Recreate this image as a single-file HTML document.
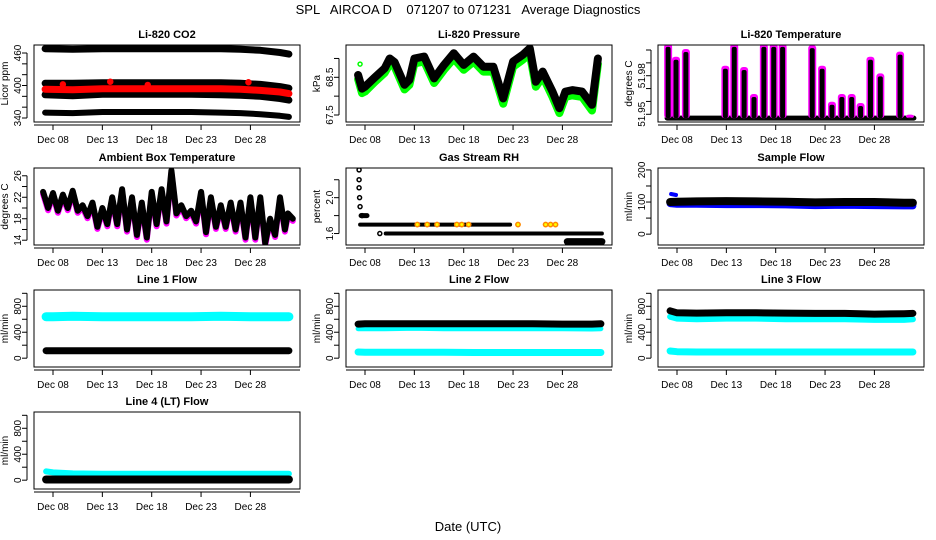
<!DOCTYPE html>
<html><head><meta charset="utf-8"><style>
html,body{margin:0;padding:0;background:#fff;}
svg{display:block;font-family:"Liberation Sans",sans-serif;}
</style></head><body>
<svg id="c" width="936" height="540" viewBox="0 0 936 540">
<text x="468" y="14" text-anchor="middle" font-size="13" style="white-space:pre" xml:space="preserve">SPL   AIRCOA D    071207 to 071231   Average Diagnostics</text>
<text x="468" y="531" text-anchor="middle" font-size="13">Date (UTC)</text>
</svg>
<script>
// ---- shared x-axis data ----
const xTickDays = [8, 13, 18, 23, 28];
const xTickLabels = ["Dec 08", "Dec 13", "Dec 18", "Dec 23", "Dec 28"];

// ---- CO2 ----
const co2Days = [7.2, 10, 13, 16, 19, 22, 25, 27, 29, 31, 31.9];
const co2High = [468, 467, 468, 468, 468, 468, 468, 467, 465, 461, 458];
const co2Upper = [404, 404, 405, 405, 405, 405, 405, 404, 402, 398, 395];
const co2Red = [393, 392, 394, 394, 394, 394, 394, 393, 391, 388, 385];
const co2Lower = [383, 381, 384, 384, 384, 384, 383, 382, 380, 376, 373];
const co2Low = [350, 349, 351, 351, 351, 351, 350, 349, 347, 344, 342];
const co2Spikes = [[13.8, 407], [27.8, 406], [9.0, 402], [17.6, 401]];

// ---- Pressure ----
const presDays = [7.3, 7.7, 8, 9, 10, 10.5, 11, 12, 12.5, 13, 14, 15, 16, 17, 18, 19, 20, 21, 22, 23, 24, 24.7, 25.3, 26, 27, 27.7, 28.3, 29, 30, 31, 31.6];
const presBlack = [68.56, 68.2, 68.25, 68.5, 68.74, 69.0, 68.9, 68.3, 68.43, 69.0, 69.05, 68.47, 68.83, 69.14, 68.83, 69.05, 68.78, 68.78, 67.94, 68.92, 69.1, 69.27, 68.38, 68.65, 68.12, 67.68, 68.12, 68.16, 68.12, 67.77, 69.0];
const presGreen = [68.45, 68.08, 68.12, 68.38, 68.62, 68.85, 68.78, 68.18, 68.3, 68.87, 68.92, 68.35, 68.7, 69.0, 68.7, 68.92, 68.65, 68.65, 67.8, 68.78, 68.97, 69.12, 68.25, 68.52, 67.98, 67.55, 67.98, 68.02, 67.98, 67.62, 68.85];

// ---- Li-820 temperature ----
const tempSpikeDays = [7.1, 7.9, 8.9, 12.9, 13.8, 14.8, 15.8, 16.8, 17.8, 18.7, 21.7, 22.7, 23.7, 24.7, 25.7, 26.6, 27.6, 28.6, 30.6, 31.6];
const tempSpikeTops = [52.004, 51.994, 52.0, 51.987, 52.004, 51.986, 51.965, 52.004, 52.004, 52.004, 52.003, 51.987, 51.959, 51.965, 51.965, 51.958, 51.994, 51.981, 51.998, 51.949];
const tempBase = 51.947;

// ---- Ambient box temperature ----
const ambDays = [7, 8, 9, 10, 11, 12, 13, 14, 15, 16, 17, 18, 19, 20, 21, 22, 23, 24, 25, 26, 27, 28, 29, 30, 31, 31.8];
const ambLow = [20, 19.5, 20, 19.5, 18.5, 16.5, 17, 17, 16, 15, 14.5, 17, 17.5, 19, 18.5, 17.5, 15.5, 16.5, 16.5, 16, 14.5, 14.5, 13.5, 15, 16, 18];
const ambHigh = [23, 22.8, 22.5, 23.2, 20.5, 21, 20, 22, 23.5, 22, 21, 23, 23.5, 27, 20.5, 19.5, 23, 22, 20.5, 21, 21, 22, 22, 18, 22, 19];

// ---- Gas stream RH ----
const rhEarlyDays = [7.4, 7.4, 7.4, 7.45, 7.5, 7.7];
const rhEarlyVals = [2.31, 2.2, 2.11, 2.0, 1.9, 1.8];
const rhSegStart = [7.5, 10.1, 28.5];
const rhSegEnd = [22.7, 32.0, 32.0];
const rhSegVal = [1.70, 1.60, 1.51];
const rhMarkDays = [13.3, 14.3, 15.3, 17.3, 17.8, 18.5, 23.5, 26.3, 26.8, 27.3];

// ---- Sample flow ----
const flowDays = [7.3, 8, 10, 13, 16, 19, 22, 25, 28, 31, 31.9];
const sampleBlack = [100, 101, 102, 103, 102, 101, 99, 100, 100, 98, 98];
const sampleBlue = [95, 93, 93, 92, 92, 91, 89, 90, 89, 88, 88];

// ---- Line flows ----
const line1Cyan = [640, 640, 645, 640, 640, 640, 640, 645, 640, 640, 640];
const line1Black = [115, 115, 115, 115, 115, 115, 115, 115, 115, 115, 115];
const line2Black = [525, 530, 530, 530, 530, 530, 530, 530, 525, 525, 530];
const line2Cyan = [455, 455, 455, 460, 455, 455, 455, 455, 455, 450, 455];
const line2Low = [95, 90, 90, 90, 90, 88, 88, 88, 88, 88, 88];
const line3Black = [730, 700, 695, 700, 700, 695, 690, 690, 680, 685, 690];
const line3Cyan = [640, 610, 600, 610, 610, 600, 600, 600, 590, 590, 600];
const line3Low = [110, 100, 95, 95, 95, 95, 95, 95, 95, 95, 95];
const line4Cyan = [135, 120, 105, 100, 100, 100, 100, 100, 100, 100, 100];
const line4Black = [10, 10, 10, 10, 10, 10, 10, 10, 10, 10, 10];

const NS = "http://www.w3.org/2000/svg";
const svg = document.getElementById("c");
const XMIN = 6.075, XMAX = 33.025;
const ROWS = [45, 168, 290, 412];
function mk(tag, attrs, parent) {
  const e = document.createElementNS(NS, tag);
  for (const k in attrs) e.setAttribute(k, attrs[k]);
  (parent || svg).appendChild(e);
  return e;
}
function panel(col, row, name, title, ylab, ylim, ticks, labels, dec) {
  const g = mk("g", {});
  
  
  const x0 = 34 + 312 * col, y0 = ROWS[row], w = 266, h = 77;
  const sx = d => x0 + (d - XMIN) / (XMAX - XMIN) * w;
  const sy = v => y0 + h - (v - ylim[0]) / (ylim[1] - ylim[0]) * h;
  const t = mk("text", {x: x0 + w / 2, y: y0 - 7, "text-anchor": "middle", "font-size": 11, "font-weight": "bold"}, g);
  t.textContent = title;
  
  
  const yl = mk("text", {transform: `translate(${x0 - 26},${y0 + h / 2}) rotate(-90)`, "text-anchor": "middle", "font-size": 10}, g);
  yl.textContent = ylab;
  
  
  const ax = x0 - 7;
  const ya = mk("g", {}, g);
  
  
  mk("line", {x1: ax, x2: ax, y1: sy(ticks[0]), y2: sy(ticks[ticks.length - 1]), stroke: "#000"}, ya);
  ticks.forEach(v => {
    mk("line", {x1: ax, x2: ax - 5, y1: sy(v), y2: sy(v), stroke: "#000"}, ya);
  });
  labels.forEach(v => {
    const tl = mk("text", {transform: `translate(${x0 - 13},${sy(v)}) rotate(-90)`, "text-anchor": "middle", "font-size": 10}, ya);
    tl.textContent = v.toFixed(dec || 0);
    
    
  });
  const xa = mk("g", {}, g);
  
  
  const ay = y0 + h + 3;
  mk("line", {x1: x0, x2: x0 + w, y1: ay, y2: ay, stroke: "#000"}, xa);
  xTickDays.forEach((d, i) => {
    mk("line", {x1: sx(d), x2: sx(d), y1: ay, y2: ay + 5, stroke: "#000"}, xa);
    const tl = mk("text", {x: sx(d), y: ay + 18, "text-anchor": "middle", "font-size": 10}, xa);
    tl.textContent = xTickLabels[i];
    
    
  });
  const clipId = "clip" + col + row;
  const cp = mk("clipPath", {id: clipId}, g);
  mk("rect", {x: x0, y: y0, width: w, height: h}, cp);
  const plot = mk("g", {"clip-path": `url(#${clipId})`}, g);
  
  
  const box = mk("rect", {x: x0, y: y0, width: w, height: h, fill: "none", stroke: "#000"}, g);
  
  
  return {sx, sy, plot};
}
function band(p, days, vals, color, width, name, dash) {
  const pts = days.map((d, i) => p.sx(d).toFixed(1) + "," + p.sy(vals[i]).toFixed(1)).join(" ");
  const a = {points: pts, fill: "none", stroke: color, "stroke-width": width, "stroke-linejoin": "round", "stroke-linecap": "round"};
  if (dash) a["stroke-dasharray"] = dash;
  const e = mk("polyline", a, p.plot);
  
  
  return e;
}
function dot(p, d, v, color, r, name, fill) {
  const e = mk("circle", {cx: p.sx(d), cy: p.sy(v), r: r, fill: fill || color, stroke: color, "stroke-width": 1.5}, p.plot);
  
  
}

let p = panel(0, 0, "co2", "Li-820 CO2", "Licor ppm", [332.6, 474.8], [340, 360, 380, 400, 420, 440, 460], [340, 400, 460]);
band(p, co2Days, co2High, "#000", 7, "co2-series-high");
band(p, co2Days, co2Upper, "#000", 7, "co2-series-upper");
band(p, co2Days, co2Lower, "#000", 7, "co2-series-lower");
band(p, co2Days, co2Red, "#f00", 7, "co2-series-red");
band(p, co2Days, co2Low, "#000", 6, "co2-series-low");
co2Spikes.forEach(s => dot(p, s[0], s[1], "#f00", 2.5, "co2-red-point"));

p = panel(1, 0, "pressure", "Li-820 Pressure", "kPa", [67.314, 69.357], [67.5, 68.0, 68.5, 69.0], [67.5, 68.5], 1);
band(p, presDays, presGreen, "#0f0", 8, "pressure-series-green");
band(p, presDays, presBlack, "#000", 8, "pressure-series-black");
dot(p, 7.5, 68.85, "#0f0", 2, "pressure-outlier", "none");

p = panel(2, 0, "li820-temp", "Li-820 Temperature", "degrees C", [51.944, 52.0039], [51.95, 51.96, 51.97, 51.98, 51.99, 52.0], [51.95, 51.98], 2);
band(p, [7.0, 32.0], [tempBase, tempBase], "#000", 5, "temp-baseline");
tempSpikeDays.forEach((d, i) => {
  const x = p.sx(d), yt = p.sy(tempSpikeTops[i]), yb = p.sy(tempBase);
  const m = mk("rect", {x: x - 4, y: yt - 1, width: 8, height: yb - yt + 1, fill: "#f0f", rx: 3}, p.plot);
  
  
  const b = mk("rect", {x: x - 2.5, y: yt + 2, width: 5, height: Math.max(0, yb - yt - 2), fill: "#000", rx: 2}, p.plot);
  
  
});

p = panel(0, 1, "ambient-temp", "Ambient Box Temperature", "degrees C", [13.11, 27.45], [14, 16, 18, 20, 22, 24, 26], [14, 18, 22, 26]);
const zzDays = [], zzVals = [], zzMag = [];
ambDays.forEach((d, i) => { zzDays.push(d, d + 0.5); zzVals.push(ambHigh[i], ambLow[i]); zzMag.push(ambHigh[i] - 0.4, ambLow[i] - 0.4); });
band(p, zzDays, zzMag, "#f0f", 6, "ambient-series-magenta");
band(p, zzDays, zzVals, "#000", 6, "ambient-series-black");

p = panel(1, 1, "rh", "Gas Stream RH", "percent", [1.472, 2.331], [1.6, 1.8, 2.0, 2.2], [1.6, 2.0], 1);
rhEarlyDays.forEach((d, i) => dot(p, d, rhEarlyVals[i], "#000", 2, "rh-point", "#fff"));
rhSegStart.forEach((s, i) => band(p, [s, rhSegEnd[i]], [rhSegVal[i], rhSegVal[i]], "#000", i === 2 ? 7 : 4, "rh-series-" + i));
band(p, [7.6, 8.2], [1.8, 1.8], "#000", 5, "rh-early-cluster");
dot(p, 9.5, 1.6, "#000", 2, "rh-point", "#fff");
rhMarkDays.forEach(d => dot(p, d, 1.70, "#f80", 2.2, "rh-orange-point", "#ff0"));

p = panel(2, 1, "sample-flow", "Sample Flow", "ml/min", [-33.8, 206], [0, 50, 100, 150, 200], [0, 100, 200]);
band(p, flowDays, sampleBlue, "#00f", 7, "sample-series-blue");
band(p, [7.4, 7.9], [125, 122], "#00f", 4, "sample-blue-bump");
band(p, flowDays, sampleBlack, "#000", 8, "sample-series-black");

const FL = [-136, 1051], FT = [0, 200, 400, 600, 800, 1000], FLAB = [0, 400, 800];
p = panel(0, 2, "line1-flow", "Line 1 Flow", "ml/min", FL, FT, FLAB);
band(p, flowDays, line1Cyan, "#0ff", 9, "line1-series-cyan");
band(p, flowDays, line1Black, "#000", 7, "line1-series-black");
p = panel(1, 2, "line2-flow", "Line 2 Flow", "ml/min", FL, FT, FLAB);
band(p, flowDays, line2Cyan, "#0ff", 5, "line2-series-cyan");
band(p, flowDays, line2Black, "#000", 7, "line2-series-black");
band(p, flowDays, line2Low, "#0ff", 7, "line2-series-low");
p = panel(2, 2, "line3-flow", "Line 3 Flow", "ml/min", FL, FT, FLAB);
band(p, flowDays, line3Cyan, "#0ff", 6, "line3-series-cyan");
band(p, flowDays, line3Black, "#000", 7, "line3-series-black");
band(p, flowDays, line3Low, "#0ff", 7, "line3-series-low");
p = panel(0, 3, "line4-flow", "Line 4 (LT) Flow", "ml/min", FL, FT, FLAB);
band(p, flowDays, line4Cyan, "#0ff", 6, "line4-series-cyan");
band(p, flowDays, line4Black, "#000", 8, "line4-series-black");
</script>
</body></html>
